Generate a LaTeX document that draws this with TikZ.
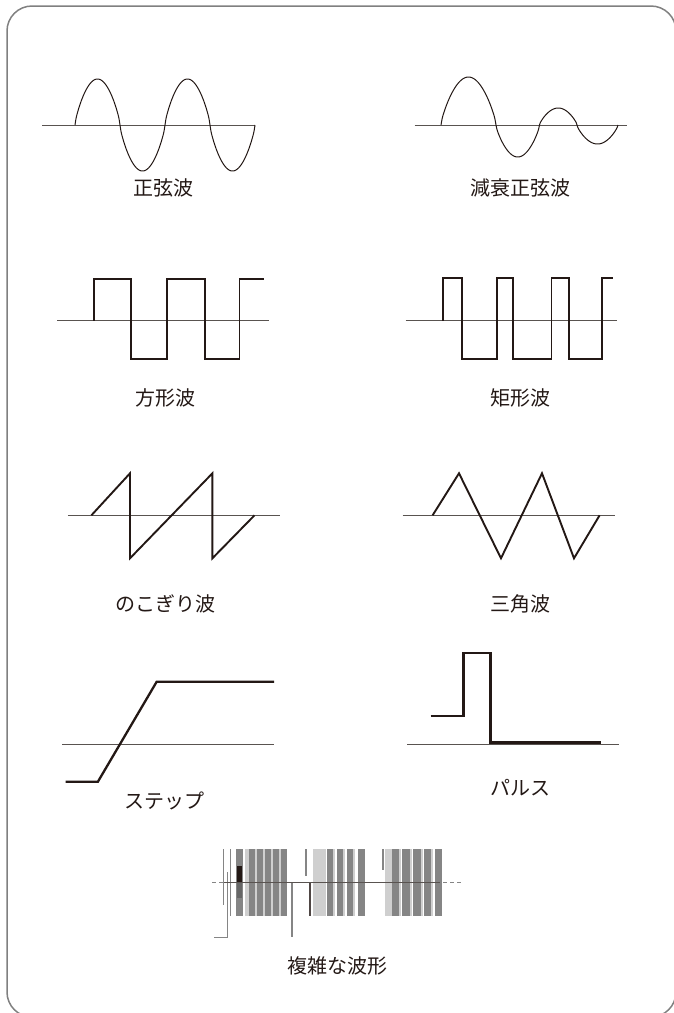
\documentclass[tikz,border=0pt]{standalone}
\usepackage{fontspec}
\setmainfont{Noto Sans CJK JP}
\definecolor{ink}{HTML}{231815}
\definecolor{axisgray}{HTML}{595350}
\definecolor{framegray}{HTML}{808080}
\definecolor{barmid}{HTML}{858585}
\definecolor{barlight}{HTML}{CFCFCF}

\begin{document}
\begin{tikzpicture}
  [x=1pt,y=-1pt,
   every node/.style={font=\fontsize{20}{24}\selectfont,text=ink,inner sep=0pt},
   axis/.style={draw=axisgray,line width=1pt},
   wave/.style={draw=ink,line width=1pt},
   thickwave/.style={draw=ink,line width=1.9pt},
   bar/.style={fill=barmid},
   lightbar/.style={fill=barlight}]
  \useasboundingbox (0,0) rectangle (673,1013);
  \draw[framegray,line width=1.5pt,rounded corners=25pt] (7,6) rectangle (676,1017);

  % Seno
  \draw[axis] (42,125) -- (255,125);
  \foreach \a/\h in {75/46,120/-46,165/46,210/-46}
    \draw[wave] plot[domain=\a:\a+45,samples=50,smooth] (\x,{125-\h*sin(4*(\x-\a))^0.75});
  \node (sine) at (163,188) {正弦波};

  % Seno amortiguado
  \draw[axis] (414.6,125) -- (626.6,125);
  \foreach \a/\b/\h in {441/496/48,496/539.5/-32,539.5/577/17,577/618/-19}
    \draw[wave] plot[domain=\a:\b,samples=50,smooth] (\x,{125-\h*sin(180*(\x-\a)/(\b-\a))^0.75});
  \node (dsine) at (520,188) {減衰正弦波};

  % Cuadrada
  \draw[axis] (57,320.7) -- (269,320.7);
  \draw[thickwave] (94.4,320.7) -- (94.4,279.3) -- (131,279.3) -- (131,359.3) -- (167.4,359.3)
    -- (167.4,279.3) -- (204.7,279.3) -- (204.7,359.3) -- (239.5,359.3) -- (239.5,279.3) -- (264,279.3);
  \node (square) at (165,398) {方形波};

  % Rectangular
  \draw[axis] (405.6,320.7) -- (617,320.7);
  \draw[thickwave] (443,320.7) -- (443,278) -- (462,278) -- (462,359.3) -- (496.6,359.3)
    -- (496.6,278) -- (513,278) -- (513,359.3) -- (551.5,359.3) -- (551.5,278) -- (568.7,278)
    -- (568.7,359.3) -- (602,359.3) -- (602,278) -- (612.5,278);
  \node (rect) at (520,398) {矩形波};

  % Diente de sierra
  \draw[axis] (67.8,515.3) -- (280,515.3);
  \draw[thickwave] (91.4,515.3) -- (130,473.3) -- (130,558.3) -- (212.4,473.3) -- (212.4,558.3) -- (254.5,515.3);
  \node (saw) at (165,604) {のこぎり波};

  % Triangular
  \draw[axis] (402.6,515.3) -- (614.6,515.3);
  \draw[thickwave] (432.6,515.3) -- (459,473.3) -- (501,558.3) -- (542,473.3) -- (574,558.3) -- (599.6,515.3);
  \node (tri) at (520,604) {三角波};

  % Escalon
  \draw[axis] (62,744.3) -- (274,744.3);
  \draw[thickwave,line width=2.3pt] (65.7,781.7) -- (97.9,781.7) -- (156.7,681.7) -- (274,681.7);
  \node (stepl) at (164,801) {ステップ};

  % Pulso
  \draw[axis] (407,744.3) -- (619.3,744.3);
  \draw[thickwave,line width=2.3pt] (430.5,715.7) -- (463.5,715.7) -- (463.5,652.7) -- (490.6,652.7)
    -- (490.6,742.5) -- (601,742.5);
  \node (pulse) at (520,788) {パルス};

  % Forma compleja
  \draw[barmid,line width=0.8pt,dash pattern=on 4pt off 3pt] (212,882) -- (463,882);
  \foreach \l/\r in {245/249,313/326,385/392}
    \fill[lightbar] (\l,849) rectangle (\r,916);
  \foreach \l/\r in {236/243,249/255,257/263,265/271,272/279,281/287,327/333,337/343,347/353,
                     358/365,392/399,402/410,413/421,424/431,435/442}
    \fill[bar] (\l,849) rectangle (\r,916);
  % rayas claras
  \foreach \l in {255,263,271,279,333,343,353,399,410,421,431}
    \fill[barlight] (\l,849) rectangle (\l+1.5,916);
  \fill[ink] (237,866) rectangle (242,882);
  \fill[black!60] (237,882) rectangle (242,898);
  \draw[barmid,line width=1pt] (214,937) -- (227,937) -- (227,872);
  \draw[barmid,line width=1pt] (223,849) -- (223,905);
  \draw[barmid,line width=1pt] (230,849) -- (230,916);
  \draw[barmid,line width=1.5pt] (292,882) -- (292,937);
  \draw[barmid,line width=1.2pt] (306,849) -- (306,876);
  \draw[ink!80,line width=1.2pt] (310,882) -- (310,916);
  \draw[barmid,line width=1.2pt] (383,849) -- (383,870);
  \draw[axisgray,line width=1pt] (224,882) -- (440,882);
  \node (complex) at (337,966) {複雑な波形};
\end{tikzpicture}
\end{document}
